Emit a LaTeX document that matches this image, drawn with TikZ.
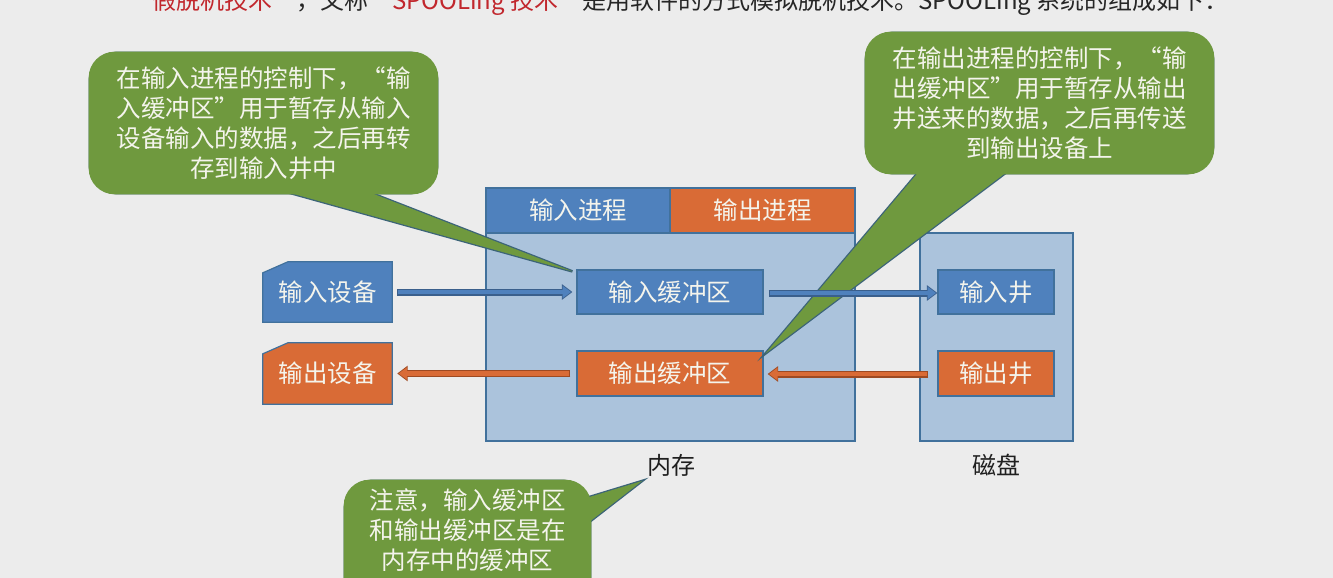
\documentclass[tikz,border=0pt]{standalone}
\usepackage{fontspec}
\setmainfont{Noto Sans CJK SC}
\newfontfamily\fwfont[CharacterWidth=Full]{Noto Sans CJK SC}
\newcommand{\zlq}{{\fwfont “}}
\newcommand{\zrq}{{\fwfont ”}}
\usetikzlibrary{arrows.meta}

\definecolor{bgc}{HTML}{ECECEC}
\definecolor{memc}{HTML}{ABC3DC}
\definecolor{edgec}{HTML}{41719C}
\definecolor{bluec}{HTML}{4F81BD}
\definecolor{bluee}{HTML}{3A5F8C}
\definecolor{orangec}{HTML}{D96B36}
\definecolor{orangee}{HTML}{9E4A22}
\definecolor{greenc}{HTML}{6F993E}
\definecolor{greene}{HTML}{3C6478}
\definecolor{txtc}{HTML}{F4F4EC}
\definecolor{redc}{HTML}{C1272D}

\pgfdeclarelayer{back}
\pgfdeclarelayer{shapes}
\pgfsetlayers{back,shapes,main}

\tikzset{
  bigfont/.style={font=\fontsize{24.5}{30}\selectfont},
  panel/.style={draw=edgec, line width=1.2pt, fill=memc, inner sep=0pt},
  bluebox/.style={draw=edgec, line width=1.2pt, fill=bluec, text=txtc, inner sep=0pt, bigfont},
  orangebox/.style={draw=edgec, line width=1.2pt, fill=orangec, text=txtc, inner sep=0pt, bigfont},
  cardtext/.style={inner sep=0pt, text=txtc, bigfont},
  cardshape/.style={draw=edgec, line width=1.2pt, line join=miter},
  bubble/.style={rounded corners=26pt, draw=greene, line width=2.6pt, fill=greenc, inner sep=0pt},
  bubfill/.style={fill=greenc, rounded corners=26pt},
  wedgeline/.style={draw=greene, line width=2.6pt, line join=miter},
  bubtext/.style={text=txtc, align=center, inner sep=0pt, bigfont},
  caption/.style={text=black!88, inner sep=0pt, font=\fontsize{24}{28}\selectfont},
  inarrow/.style={draw=bluec, line width=4.6pt, shorten >=1.4pt, shorten <=1.2pt,
    -{Triangle[length=8.5pt,width=12pt]},
    preaction={draw=bluee, line width=7pt, shorten >=0pt, shorten <=0pt,
      -{Triangle[length=10.5pt,width=15pt]}}},
  outarrow/.style={draw=orangec, line width=4.6pt, shorten >=1.4pt, shorten <=1.2pt,
    -{Triangle[length=8.5pt,width=12pt]},
    preaction={draw=orangee, line width=7pt, shorten >=0pt, shorten <=0pt,
      -{Triangle[length=10.5pt,width=15pt]}}},
}

\begin{document}
\begin{tikzpicture}[x=1pt,y=-1pt]
\useasboundingbox (0,0) rectangle (1333,578);
\begin{pgfonlayer}{back}
  \fill[bgc] (0,0) rectangle (1333,578);
\end{pgfonlayer}

% heading line
\node[anchor=base west, inner sep=0pt, font=\fontsize{24}{30}\selectfont, text=black!85] (title) at (128,10)
  {\textcolor{redc}{\zlq 假脱机技术\zrq}，又称\textcolor{redc}{\zlq SPOOLing 技术\zrq}是用软件的方式模拟脱机技术。SPOOLing 系统的组成如下：};

% main memory
\node[panel, minimum width=369pt, minimum height=253pt] (mem) at (670.5,314.5) {};
\node[bluebox, minimum width=184pt, minimum height=45pt] (inproc) at (578,210.5) {输入进程};
\node[orangebox, minimum width=185pt, minimum height=45pt] (outproc) at (762.5,210.5) {输出进程};
\node[bluebox, minimum width=186pt, minimum height=44pt] (bufin) at (670,292) {输入缓冲区};
\node[orangebox, minimum width=186pt, minimum height=45pt] (bufout) at (670,373.5) {输出缓冲区};
\node[caption] (memlabel) at (671,465) {内存};

% disk
\node[panel, minimum width=153pt, minimum height=208pt] (disk) at (996.5,337) {};
\node[bluebox, minimum width=116pt, minimum height=44pt] (wellin) at (996,292) {输入井};
\node[orangebox, minimum width=116pt, minimum height=45pt] (wellout) at (996,373.5) {输出井};
\node[caption] (disklabel) at (996,465) {磁盘};

% devices (card shapes)
\node[cardtext, minimum width=129pt, minimum height=60pt] (indev) at (327.5,292) {\raisebox{-4pt}{输入设备}};
\node[cardtext, minimum width=129pt, minimum height=61pt] (outdev) at (327.5,373.5) {\raisebox{-4pt}{输出设备}};
\begin{pgfonlayer}{shapes}
  \filldraw[cardshape, fill=bluec]
    ([shift={(0,11)}]indev.north west) -- ([shift={(25,0)}]indev.north west)
    -- (indev.north east) -- (indev.south east) -- (indev.south west) -- cycle;
  \filldraw[cardshape, fill=orangec]
    ([shift={(0,11)}]outdev.north west) -- ([shift={(25,0)}]outdev.north west)
    -- (outdev.north east) -- (outdev.south east) -- (outdev.south west) -- cycle;
\end{pgfonlayer}

% callout 1
\node[bubble, minimum width=347pt, minimum height=140pt] (c1) at (263.5,123) {};
\draw[wedgeline] ([shift={(163,-12)}]c1.south west) -- ([shift={(-4,2)}]bufin.north west)
  -- ([shift={(255,-12)}]c1.south west);
\fill[bubfill] (c1.north west) rectangle (c1.south east);
\fill[greenc] ([shift={(163,-12)}]c1.south west) -- ([shift={(-4,2)}]bufin.north west)
  -- ([shift={(255,-12)}]c1.south west) -- cycle;
\node[bubtext] (c1t) at (c1.center)
  {在输入进程的控制下，\zlq 输\\入缓冲区\zrq 用于暂存从输入\\设备输入的数据，之后再转\\存到输入井中};

% callout 2
\node[bubble, minimum width=347pt, minimum height=140pt] (c2) at (1039.5,103) {};
\draw[wedgeline] ([shift={(62,-12)}]c2.south west) -- ([shift={(2,3)}]bufout.north east)
  -- ([shift={(155,-12)}]c2.south west);
\fill[bubfill] (c2.north west) rectangle (c2.south east);
\fill[greenc] ([shift={(62,-12)}]c2.south west) -- ([shift={(2,3)}]bufout.north east)
  -- ([shift={(155,-12)}]c2.south west) -- cycle;
\node[bubtext] (c2t) at (c2.center)
  {在输出进程的控制下，\zlq 输\\出缓冲区\zrq 用于暂存从输出\\井送来的数据，之后再传送\\到输出设备上};

% callout 3
\node[bubble, minimum width=245pt, minimum height=160pt] (c3) at (467.5,561) {};
\draw[wedgeline] ([shift={(-10,19.8)}]c3.north east) -- ([shift={(-29,16)}]memlabel.center)
  -- ([shift={(-10,48.4)}]c3.north east);
\fill[bubfill] (c3.north west) rectangle (c3.south east);
\fill[greenc] ([shift={(-10,19.8)}]c3.north east) -- ([shift={(-29,16)}]memlabel.center)
  -- ([shift={(-10,48.4)}]c3.north east) -- cycle;
\node[bubtext] (c3t) at ([shift={(0,50)}]c3.north)
  {注意，输入缓冲区\\和输出缓冲区是在\\内存中的缓冲区};

% data flow
\draw[inarrow] ([shift={(5,0)}]indev.east) -- ([shift={(-4,0)}]bufin.west);
\draw[inarrow] ([shift={(5,1)}]bufin.east) -- ([shift={(0,1)}]wellin.west);
\draw[outarrow] ([shift={(-6,0)}]bufout.west) -- ([shift={(5,0)}]outdev.east);
\draw[outarrow] ([shift={(-9,0.5)}]wellout.west) -- ([shift={(4,0.5)}]bufout.east);
\end{tikzpicture}
\end{document}
